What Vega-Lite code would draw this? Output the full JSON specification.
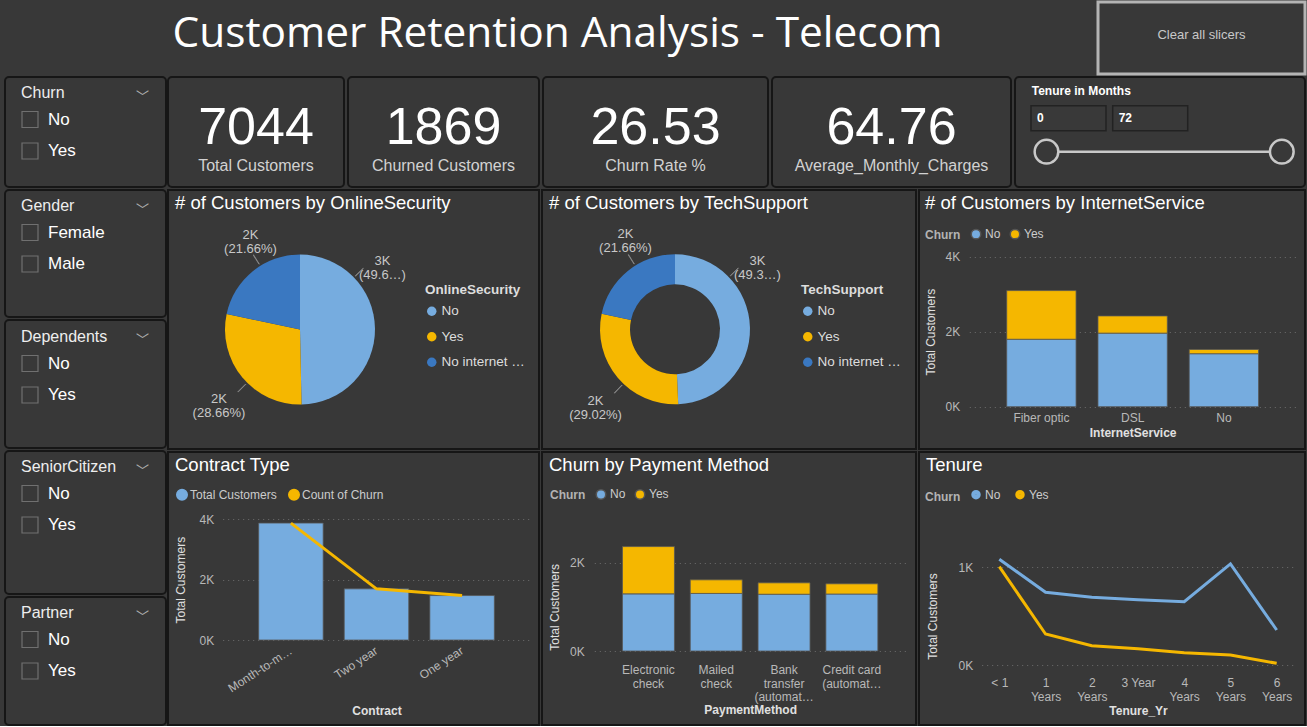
{
  "$schema": "https://vega.github.io/schema/vega-lite/v6.json",
  "background": "#383838",
  "padding": {"left": 4, "top": 0, "right": 0, "bottom": 0},
  "spacing": 0,
  "resolve": {"scale": {"color": "independent", "stroke": "independent", "theta": "independent", "x": "independent", "y": "independent"}, "legend": {"color": "independent", "stroke": "independent"}},
  "config": {
    "font": "Liberation Sans",
    "view": {"fill": "#383838", "stroke": "#161616", "strokeWidth": 2},
    "axis": {"labelColor": "#b8b8b8", "labelFontSize": 12, "titleColor": "#e0e0e0", "titleFontSize": 12, "titleFontWeight": "normal", "ticks": false, "domain": false, "gridColor": "#6e6e6e", "gridDash": [1, 4], "gridWidth": 1, "labelPadding": 3},
    "legend": {"labelColor": "#cccccc", "titleColor": "#b3b3b3", "padding": 0, "labelFontSize": 12, "titleFontSize": 12},
    "title": {"anchor": "start", "frame": "group", "baseline": "top", "offset": -22, "dx": 7, "fontSize": 18.5, "fontWeight": "normal", "color": "#ffffff"}
  },
  "vconcat": [
    {
      "hconcat": [
        {
          "width": 1090, "height": 74, "view": {"stroke": null, "fill": null},
          "data": {"values": [{"title": "Customer Retention Analysis - Telecom"}]},
          "mark": {"type": "text", "font": "Open Sans", "fontSize": 42.4, "color": "#ffffff", "baseline": "alphabetic", "dy": 8, "dx": 7.5},
          "encoding": {"text": {"field": "title", "type": "nominal"}}
        },
        {
          "width": 207, "height": 72, "view": {"stroke": "#b4b4b4", "strokeWidth": 3, "fill": "#383838"},
          "data": {"values": [{"label": "Clear all slicers"}]},
          "mark": {"type": "text", "fontSize": 13, "color": "#c8c8c8", "baseline": "middle", "dy": -3},
          "encoding": {"text": {"field": "label", "type": "nominal"}}
        }
      ],
      "spacing": 3, "bounds": "flush",
      "resolve": {"scale": {"color": "independent", "stroke": "independent"}}
    },
    {
      "hconcat": [
        {
          "vconcat": [
            {
              "width": 161, "height": 110, "view": {"fill": "#383838", "stroke": "#161616", "strokeWidth": 2, "cornerRadius": 4},
              "title": {"text": "﹀", "anchor": "end", "dx": -17, "offset": -27, "font": "Noto Sans CJK JP", "fontSize": 13, "color": "#b0b0b0"},
              "data": {"values": [{"Churn": "No"}, {"Churn": "Yes"}]},
              "mark": {"type": "square", "opacity": 0, "filled": false},
              "encoding": {"stroke": {"field": "Churn", "type": "nominal", "scale": {"range": ["#707070", "#707070"]},
                "legend": {"title": "Churn", "orient": "none", "legendX": 16, "legendY": 8, "symbolType": "square", "symbolSize": 256, "symbolStrokeWidth": 1.2, "symbolFillColor": "transparent", "symbolOpacity": 1, "labelFontSize": 17, "labelColor": "#ffffff", "labelOffset": 9, "rowPadding": 9.5, "titleFontSize": 16, "titleColor": "#eeeeee", "titleFontWeight": "normal", "titlePadding": 9.5}}}
            },
            {
              "width": 161, "height": 127, "view": {"fill": "#383838", "stroke": "#161616", "strokeWidth": 2, "cornerRadius": 4},
              "title": {"text": "﹀", "anchor": "end", "dx": -17, "offset": -27, "font": "Noto Sans CJK JP", "fontSize": 13, "color": "#b0b0b0"},
              "data": {"values": [{"Gender": "Female"}, {"Gender": "Male"}]},
              "mark": {"type": "square", "opacity": 0, "filled": false},
              "encoding": {"stroke": {"field": "Gender", "type": "nominal", "scale": {"range": ["#707070", "#707070"]},
                "legend": {"title": "Gender", "orient": "none", "legendX": 16, "legendY": 8, "symbolType": "square", "symbolSize": 256, "symbolStrokeWidth": 1.2, "symbolFillColor": "transparent", "symbolOpacity": 1, "labelFontSize": 17, "labelColor": "#ffffff", "labelOffset": 9, "rowPadding": 9.5, "titleFontSize": 16, "titleColor": "#eeeeee", "titleFontWeight": "normal", "titlePadding": 9.5}}}
            },
            {
              "width": 161, "height": 128, "view": {"fill": "#383838", "stroke": "#161616", "strokeWidth": 2, "cornerRadius": 4},
              "title": {"text": "﹀", "anchor": "end", "dx": -17, "offset": -27, "font": "Noto Sans CJK JP", "fontSize": 13, "color": "#b0b0b0"},
              "data": {"values": [{"Dependents": "No"}, {"Dependents": "Yes"}]},
              "mark": {"type": "square", "opacity": 0, "filled": false},
              "encoding": {"stroke": {"field": "Dependents", "type": "nominal", "scale": {"range": ["#707070", "#707070"]},
                "legend": {"title": "Dependents", "orient": "none", "legendX": 16, "legendY": 9, "symbolType": "square", "symbolSize": 256, "symbolStrokeWidth": 1.2, "symbolFillColor": "transparent", "symbolOpacity": 1, "labelFontSize": 17, "labelColor": "#ffffff", "labelOffset": 9, "rowPadding": 9.5, "titleFontSize": 16, "titleColor": "#eeeeee", "titleFontWeight": "normal", "titlePadding": 9.5}}}
            },
            {
              "width": 161, "height": 143, "view": {"fill": "#383838", "stroke": "#161616", "strokeWidth": 2, "cornerRadius": 4},
              "title": {"text": "﹀", "anchor": "end", "dx": -17, "offset": -27, "font": "Noto Sans CJK JP", "fontSize": 13, "color": "#b0b0b0"},
              "data": {"values": [{"SeniorCitizen": "No"}, {"SeniorCitizen": "Yes"}]},
              "mark": {"type": "square", "opacity": 0, "filled": false},
              "encoding": {"stroke": {"field": "SeniorCitizen", "type": "nominal", "scale": {"range": ["#707070", "#707070"]},
                "legend": {"title": "SeniorCitizen", "orient": "none", "legendX": 16, "legendY": 8, "symbolType": "square", "symbolSize": 256, "symbolStrokeWidth": 1.2, "symbolFillColor": "transparent", "symbolOpacity": 1, "labelFontSize": 17, "labelColor": "#ffffff", "labelOffset": 9, "rowPadding": 9.5, "titleFontSize": 16, "titleColor": "#eeeeee", "titleFontWeight": "normal", "titlePadding": 9.5}}}
            },
            {
              "width": 161, "height": 128, "view": {"fill": "#383838", "stroke": "#161616", "strokeWidth": 2, "cornerRadius": 4},
              "title": {"text": "﹀", "anchor": "end", "dx": -17, "offset": -27, "font": "Noto Sans CJK JP", "fontSize": 13, "color": "#b0b0b0"},
              "data": {"values": [{"Partner": "No"}, {"Partner": "Yes"}]},
              "mark": {"type": "square", "opacity": 0, "filled": false},
              "encoding": {"stroke": {"field": "Partner", "type": "nominal", "scale": {"range": ["#707070", "#707070"]},
                "legend": {"title": "Partner", "orient": "none", "legendX": 16, "legendY": 8, "symbolType": "square", "symbolSize": 256, "symbolStrokeWidth": 1.2, "symbolFillColor": "transparent", "symbolOpacity": 1, "labelFontSize": 17, "labelColor": "#ffffff", "labelOffset": 9, "rowPadding": 9.5, "titleFontSize": 16, "titleColor": "#eeeeee", "titleFontWeight": "normal", "titlePadding": 9.5}}}
            }
          ],
          "spacing": 3, "bounds": "flush",
          "resolve": {"scale": {"color": "independent", "stroke": "independent"}, "legend": {"color": "independent", "stroke": "independent"}}
        },
        {
          "vconcat": [
            {
              "hconcat": [
                {
                  "width": 176, "height": 110, "view": {"fill": "#383838", "stroke": "#161616", "strokeWidth": 2, "cornerRadius": 4},
                  "data": {"values": [{"metric": "Total Customers", "value": 7044}]},
                  "layer": [
                    {"mark": {"type": "text", "fontSize": 52, "color": "#ffffff", "baseline": "alphabetic", "dy": 12}, "encoding": {"text": {"field": "value", "type": "quantitative", "format": "d"}}},
                    {"mark": {"type": "text", "fontSize": 16, "color": "#d2d2d2", "baseline": "alphabetic", "dy": 39}, "encoding": {"text": {"field": "metric", "type": "nominal"}}}
                  ]
                },
                {
                  "width": 191, "height": 110, "view": {"fill": "#383838", "stroke": "#161616", "strokeWidth": 2, "cornerRadius": 4},
                  "data": {"values": [{"metric": "Churned Customers", "value": 1869}]},
                  "layer": [
                    {"mark": {"type": "text", "fontSize": 52, "color": "#ffffff", "baseline": "alphabetic", "dy": 12}, "encoding": {"text": {"field": "value", "type": "quantitative", "format": "d"}}},
                    {"mark": {"type": "text", "fontSize": 16, "color": "#d2d2d2", "baseline": "alphabetic", "dy": 39}, "encoding": {"text": {"field": "metric", "type": "nominal"}}}
                  ]
                },
                {
                  "width": 225, "height": 110, "view": {"fill": "#383838", "stroke": "#161616", "strokeWidth": 2, "cornerRadius": 4},
                  "data": {"values": [{"metric": "Churn Rate %", "value": 26.53}]},
                  "layer": [
                    {"mark": {"type": "text", "fontSize": 52, "color": "#ffffff", "baseline": "alphabetic", "dy": 12}, "encoding": {"text": {"field": "value", "type": "quantitative", "format": ".2f"}}},
                    {"mark": {"type": "text", "fontSize": 16, "color": "#d2d2d2", "baseline": "alphabetic", "dy": 39}, "encoding": {"text": {"field": "metric", "type": "nominal"}}}
                  ]
                },
                {
                  "width": 239, "height": 110, "view": {"fill": "#383838", "stroke": "#161616", "strokeWidth": 2, "cornerRadius": 4},
                  "data": {"values": [{"metric": "Average_Monthly_Charges", "value": 64.76}]},
                  "layer": [
                    {"mark": {"type": "text", "fontSize": 52, "color": "#ffffff", "baseline": "alphabetic", "dy": 12}, "encoding": {"text": {"field": "value", "type": "quantitative", "format": ".2f"}}},
                    {"mark": {"type": "text", "fontSize": 16, "color": "#d2d2d2", "baseline": "alphabetic", "dy": 39}, "encoding": {"text": {"field": "metric", "type": "nominal"}}}
                  ]
                },
                {
                  "width": 290, "height": 110, "view": {"fill": "#383838", "stroke": "#161616", "strokeWidth": 2, "cornerRadius": 4},
                  "title": {"text": "Tenure in Months", "fontSize": 12, "fontWeight": "bold", "dx": 16.7, "offset": -21, "color": "#ffffff"},
                  "data": {"values": [{"bound": "min", "months": 0}, {"bound": "max", "months": 72}]},
                  "resolve": {"scale": {"x": "independent"}},
                  "layer": [
                    {
                      "mark": {"type": "point", "shape": "M-1,-0.333L1,-0.333L1,0.333L-1,0.333Z", "size": 5625, "filled": true, "fill": "#393939", "stroke": "#222222", "strokeWidth": 1.5, "opacity": 1},
                      "encoding": {
                        "x": {"field": "bound", "type": "nominal", "scale": {"type": "point", "domain": ["min", "max"], "range": [53.5, 135.2], "padding": 0}, "axis": null},
                        "y": {"datum": "boxes", "type": "nominal", "scale": {"type": "point", "domain": ["boxes", "slider"], "range": [41.2, 74.7], "padding": 0}, "axis": null}
                      }
                    },
                    {
                      "mark": {"type": "text", "align": "left", "baseline": "middle", "dx": -31.5, "fontSize": 12, "fontWeight": "bold", "color": "#ffffff"},
                      "encoding": {
                        "x": {"field": "bound", "type": "nominal", "scale": {"type": "point", "domain": ["min", "max"], "range": [53.5, 135.2], "padding": 0}, "axis": null},
                        "y": {"datum": "boxes", "type": "nominal"},
                        "text": {"field": "months", "type": "quantitative"}
                      }
                    },
                    {
                      "mark": {"type": "line", "color": "#c8c8c8", "strokeWidth": 2.5},
                      "encoding": {
                        "x": {"field": "months", "type": "quantitative", "scale": {"domain": [0, 72], "range": [31.5, 266.8], "nice": false, "zero": false}, "axis": null},
                        "y": {"datum": "slider", "type": "nominal"}
                      }
                    },
                    {
                      "mark": {"type": "point", "filled": true, "fill": "#383838", "stroke": "#c8c8c8", "strokeWidth": 2.5, "size": 560, "opacity": 1},
                      "encoding": {
                        "x": {"field": "months", "type": "quantitative", "scale": {"domain": [0, 72], "range": [31.5, 266.8], "nice": false, "zero": false}, "axis": null},
                        "y": {"datum": "slider", "type": "nominal"}
                      }
                    }
                  ]
                }
              ],
              "spacing": 4, "bounds": "flush",
              "resolve": {"scale": {"color": "independent", "stroke": "independent", "x": "independent", "y": "independent"}}
            },
            {
              "hconcat": [
                {
                  "width": 371, "height": 259, "view": {"fill": "#383838", "stroke": "#161616", "strokeWidth": 2, "cornerRadius": 0},
                  "title": {"text": "# of Customers by OnlineSecurity"},
                  "data": {"values": [
                    {"OnlineSecurity": "No", "count": 3499, "rank": 1, "label": "3K\n(49.6…)"},
                    {"OnlineSecurity": "Yes", "count": 2019, "rank": 2, "label": "2K\n(28.66%)"},
                    {"OnlineSecurity": "No internet service", "count": 1526, "rank": 3, "label": "2K\n(21.66%)"}
                  ]},
                  "layer": [
                    {
                      "mark": {"type": "arc", "outerRadius": 75, "x": 132, "y": 139.5},
                      "encoding": {
                        "theta": {"field": "count", "type": "quantitative", "stack": true},
                        "order": {"field": "rank", "type": "ordinal"},
                        "color": {"field": "OnlineSecurity", "type": "nominal", "scale": {"domain": ["No", "Yes", "No internet service"], "range": ["#76ACDF", "#F5B700", "#3A78C1"]},
                          "legend": {"title": "OnlineSecurity", "orient": "none", "legendX": 257, "legendY": 93, "titleFontWeight": "bold", "titleFontSize": 13.5, "titleColor": "#dddddd", "titlePadding": 8, "labelFontSize": 13.5, "labelColor": "#dddddd", "symbolType": "circle", "symbolSize": 90, "labelOffset": 3, "rowPadding": 10.5, "labelLimit": 86}}
                      }
                    },
                    {
                      "transform": [{"stack": "count", "groupby": [], "sort": [{"field": "rank"}], "as": ["s0", "s1"]}],
                      "mark": {"type": "arc", "radius": 88, "radius2": 77, "thetaOffset": 0.8, "theta2Offset": 0.805, "x": 132, "y": 139.5, "color": "#8c8c8c", "stroke": "#8c8c8c", "strokeWidth": 0.7},
                      "encoding": {
                        "theta": {"field": "s0", "type": "quantitative"},
                        "theta2": {"field": "s0"}
                      }
                    },
                    {
                      "transform": [{"stack": "count", "groupby": [], "sort": [{"field": "rank"}], "as": ["s0", "s1"]}],
                      "mark": {"type": "text", "radius": 107, "thetaOffset": 0.88, "x": 132, "y": 139.5, "lineBreak": "\n", "fontSize": 13, "color": "#c8c8c8", "align": "center", "baseline": "middle", "lineHeight": 14},
                      "encoding": {
                        "theta": {"field": "s0", "type": "quantitative"},
                        "text": {"field": "label", "type": "nominal"}
                      }
                    }
                  ]
                },
                {
                  "width": 374, "height": 259, "view": {"fill": "#383838", "stroke": "#161616", "strokeWidth": 2, "cornerRadius": 0},
                  "title": {"text": "# of Customers by TechSupport"},
                  "data": {"values": [
                    {"TechSupport": "No", "count": 3474, "rank": 1, "label": "3K\n(49.3…)"},
                    {"TechSupport": "Yes", "count": 2044, "rank": 2, "label": "2K\n(29.02%)"},
                    {"TechSupport": "No internet service", "count": 1526, "rank": 3, "label": "2K\n(21.66%)"}
                  ]},
                  "layer": [
                    {
                      "mark": {"type": "arc", "outerRadius": 75, "innerRadius": 45, "x": 133, "y": 139.3},
                      "encoding": {
                        "theta": {"field": "count", "type": "quantitative", "stack": true},
                        "order": {"field": "rank", "type": "ordinal"},
                        "color": {"field": "TechSupport", "type": "nominal", "scale": {"domain": ["No", "Yes", "No internet service"], "range": ["#76ACDF", "#F5B700", "#3A78C1"]},
                          "legend": {"title": "TechSupport", "orient": "none", "legendX": 259, "legendY": 93, "titleFontWeight": "bold", "titleFontSize": 13.5, "titleColor": "#dddddd", "titlePadding": 8, "labelFontSize": 13.5, "labelColor": "#dddddd", "symbolType": "circle", "symbolSize": 90, "labelOffset": 3, "rowPadding": 10.5, "labelLimit": 86}}
                      }
                    },
                    {
                      "transform": [{"stack": "count", "groupby": [], "sort": [{"field": "rank"}], "as": ["s0", "s1"]}],
                      "mark": {"type": "arc", "radius": 88, "radius2": 77, "thetaOffset": 0.8, "theta2Offset": 0.805, "x": 133, "y": 139.3, "color": "#8c8c8c", "stroke": "#8c8c8c", "strokeWidth": 0.7},
                      "encoding": {
                        "theta": {"field": "s0", "type": "quantitative"},
                        "theta2": {"field": "s0"}
                      }
                    },
                    {
                      "transform": [{"stack": "count", "groupby": [], "sort": [{"field": "rank"}], "as": ["s0", "s1"]}],
                      "mark": {"type": "text", "radius": 107, "thetaOffset": 0.88, "x": 133, "y": 139.3, "lineBreak": "\n", "fontSize": 13, "color": "#c8c8c8", "align": "center", "baseline": "middle", "lineHeight": 14},
                      "encoding": {
                        "theta": {"field": "s0", "type": "quantitative"},
                        "text": {"field": "label", "type": "nominal"}
                      }
                    }
                  ]
                },
                {
                  "width": 386, "height": 259, "view": {"fill": "#383838", "stroke": "#161616", "strokeWidth": 2, "cornerRadius": 0},
                  "title": {"text": "# of Customers by InternetService", "dx": 6},
                  "data": {"values": [
                    {"InternetService": "Fiber optic", "Churn": "No", "count": 1799},
                    {"InternetService": "Fiber optic", "Churn": "Yes", "count": 1297},
                    {"InternetService": "DSL", "Churn": "No", "count": 1962},
                    {"InternetService": "DSL", "Churn": "Yes", "count": 459},
                    {"InternetService": "No", "Churn": "No", "count": 1413},
                    {"InternetService": "No", "Churn": "Yes", "count": 113}
                  ]},
                  "mark": {"type": "bar", "stroke": "#555555", "strokeWidth": 0.8},
                  "encoding": {
                    "x": {"field": "InternetService", "type": "nominal", "sort": ["Fiber optic", "DSL", "No"], "scale": {"range": [50.3, 377], "paddingInner": 0.24, "paddingOuter": 0.41},
                      "axis": {"offset": -42.3, "labelAngle": 0, "labelPadding": 5.4, "title": "InternetService", "titleFontWeight": "bold", "titlePadding": 4}},
                    "y": {"field": "count", "type": "quantitative", "stack": "zero", "title": "Total Customers", "scale": {"domain": [0, 4000], "range": [216.7, 66.7], "nice": false, "zero": false},
                      "axis": {"values": [0, 2000, 4000], "labelExpr": "(datum.value/1000) + 'K'", "offset": -43.7, "grid": true, "titlePadding": 8}},
                    "order": {"field": "Churn", "type": "nominal", "sort": "ascending"},
                    "color": {"field": "Churn", "type": "nominal", "scale": {"domain": ["No", "Yes"], "range": ["#76ACDF", "#F5B700"]},
                      "legend": {"title": "Churn", "orient": "none", "legendX": 6, "legendY": 38, "direction": "horizontal", "titleOrient": "left", "titleFontWeight": "bold", "titlePadding": 9, "symbolType": "circle", "symbolSize": 90, "labelOffset": 3, "columnPadding": 6}}
                  }
                }
              ],
              "spacing": 3, "bounds": "flush",
              "resolve": {"scale": {"color": "independent", "theta": "independent", "x": "independent", "y": "independent"}, "legend": {"color": "independent"}}
            },
            {
              "hconcat": [
                {
                  "width": 371, "height": 273, "view": {"fill": "#383838", "stroke": "#161616", "strokeWidth": 2, "cornerRadius": 0},
                  "title": {"text": "Contract Type"},
                  "data": {"values": [
                    {"Contract": "Month-to-month", "total": 3875, "churn": 3875},
                    {"Contract": "Two year", "total": 1695, "churn": 1695},
                    {"Contract": "One year", "total": 1473, "churn": 1473}
                  ]},
                  "layer": [
                    {
                      "mark": {"type": "bar", "stroke": "#555555", "strokeWidth": 0.8},
                      "encoding": {
                        "x": {"field": "Contract", "type": "nominal", "sort": ["Month-to-month", "Two year", "One year"], "scale": {"range": [54.7, 362.3], "paddingInner": 0.246, "paddingOuter": 0.42},
                          "axis": {"offset": -85, "labelAngle": -33, "labelAlign": "right", "labelBaseline": "middle", "labelLimit": 75, "labelPadding": 9, "title": "Contract", "titleFontWeight": "bold", "titlePadding": 12}},
                        "y": {"field": "total", "type": "quantitative", "title": "Total Customers", "scale": {"domain": [0, 4000], "range": [188, 67.3], "nice": false, "zero": false},
                          "axis": {"values": [0, 2000, 4000], "labelExpr": "(datum.value/1000) + 'K'", "offset": -48.7, "grid": true, "titlePadding": 12}},
                        "color": {"datum": "Total Customers", "type": "nominal", "scale": {"domain": ["Total Customers", "Count of Churn"], "range": ["#76ACDF", "#F5B700"]},
                          "legend": {"title": null, "orient": "none", "legendX": 8, "legendY": 36.3, "direction": "horizontal", "symbolType": "circle", "symbolSize": 110, "labelOffset": 2, "columnPadding": 8}}
                      }
                    },
                    {
                      "mark": {"type": "line", "strokeWidth": 3},
                      "encoding": {
                        "x": {"field": "Contract", "type": "nominal", "sort": ["Month-to-month", "Two year", "One year"]},
                        "y": {"field": "churn", "type": "quantitative", "title": "Total Customers"},
                        "color": {"datum": "Count of Churn", "type": "nominal"}
                      }
                    }
                  ]
                },
                {
                  "width": 374, "height": 273, "view": {"fill": "#383838", "stroke": "#161616", "strokeWidth": 2, "cornerRadius": 0},
                  "title": {"text": "Churn by Payment Method"},
                  "data": {"values": [
                    {"PaymentMethod": "Electronic check", "Churn": "No", "count": 1294},
                    {"PaymentMethod": "Electronic check", "Churn": "Yes", "count": 1071},
                    {"PaymentMethod": "Mailed check", "Churn": "No", "count": 1304},
                    {"PaymentMethod": "Mailed check", "Churn": "Yes", "count": 308},
                    {"PaymentMethod": "Bank transfer (automatic)", "Churn": "No", "count": 1286},
                    {"PaymentMethod": "Bank transfer (automatic)", "Churn": "Yes", "count": 258},
                    {"PaymentMethod": "Credit card (automatic)", "Churn": "No", "count": 1290},
                    {"PaymentMethod": "Credit card (automatic)", "Churn": "Yes", "count": 232}
                  ]},
                  "mark": {"type": "bar", "stroke": "#555555", "strokeWidth": 0.8},
                  "encoding": {
                    "x": {"field": "PaymentMethod", "type": "nominal", "sort": ["Electronic check", "Mailed check", "Bank transfer (automatic)", "Credit card (automatic)"], "scale": {"range": [52.3, 364], "paddingInner": 0.233, "paddingOuter": 0.415},
                      "axis": {"offset": -74, "labelAngle": 0, "labelPadding": 13.8, "labelLineHeight": 13.3, "title": "PaymentMethod", "titleFontWeight": "bold", "titlePadding": 2,
                        "labelExpr": "datum.label == 'Electronic check' ? ['Electronic', 'check'] : datum.label == 'Mailed check' ? ['Mailed', 'check'] : datum.label == 'Bank transfer (automatic)' ? ['Bank', 'transfer', '(automat…'] : ['Credit card', '(automat…']"}},
                    "y": {"field": "count", "type": "quantitative", "stack": "zero", "title": "Total Customers", "scale": {"domain": [0, 2000], "range": [199, 110.7], "nice": false, "zero": false},
                      "axis": {"values": [0, 2000], "labelExpr": "(datum.value/1000) + 'K'", "offset": -45.3, "grid": true, "titlePadding": 8}},
                    "order": {"field": "Churn", "type": "nominal", "sort": "ascending"},
                    "color": {"field": "Churn", "type": "nominal", "scale": {"domain": ["No", "Yes"], "range": ["#76ACDF", "#F5B700"]},
                      "legend": {"title": "Churn", "orient": "none", "legendX": 8, "legendY": 36.3, "direction": "horizontal", "titleOrient": "left", "titleFontWeight": "bold", "titlePadding": 9, "symbolType": "circle", "symbolSize": 90, "labelOffset": 3, "columnPadding": 6}}
                  }
                },
                {
                  "width": 386, "height": 273, "view": {"fill": "#383838", "stroke": "#161616", "strokeWidth": 2, "cornerRadius": 0},
                  "title": {"text": "Tenure"},
                  "data": {"values": [
                    {"Tenure_Yr": "< 1", "Churn": "No", "count": 1079},
                    {"Tenure_Yr": "1 Years", "Churn": "No", "count": 742},
                    {"Tenure_Yr": "2 Years", "Churn": "No", "count": 691},
                    {"Tenure_Yr": "3 Year", "Churn": "No", "count": 667},
                    {"Tenure_Yr": "4 Years", "Churn": "No", "count": 646},
                    {"Tenure_Yr": "5 Years", "Churn": "No", "count": 1031},
                    {"Tenure_Yr": "6 Years", "Churn": "No", "count": 357},
                    {"Tenure_Yr": "< 1", "Churn": "Yes", "count": 1003},
                    {"Tenure_Yr": "1 Years", "Churn": "Yes", "count": 316},
                    {"Tenure_Yr": "2 Years", "Churn": "Yes", "count": 197},
                    {"Tenure_Yr": "3 Year", "Churn": "Yes", "count": 166},
                    {"Tenure_Yr": "4 Years", "Churn": "Yes", "count": 126},
                    {"Tenure_Yr": "5 Years", "Churn": "Yes", "count": 102},
                    {"Tenure_Yr": "6 Years", "Churn": "Yes", "count": 17}
                  ]},
                  "mark": {"type": "line", "strokeWidth": 3},
                  "encoding": {
                    "x": {"field": "Tenure_Yr", "type": "nominal", "sort": ["< 1", "1 Years", "2 Years", "3 Year", "4 Years", "5 Years", "6 Years"], "scale": {"type": "point", "range": [62.7, 375.3], "padding": 0.381},
                      "axis": {"offset": -60, "labelAngle": 0, "labelPadding": 12, "labelLineHeight": 14.4, "title": "Tenure_Yr", "titleFontWeight": "bold", "titlePadding": 3,
                        "labelExpr": "datum.label == '< 1' || datum.label == '3 Year' ? datum.label : split(datum.label, ' ')"}},
                    "y": {"field": "count", "type": "quantitative", "title": "Total Customers", "scale": {"domain": [0, 1000], "range": [213, 115], "nice": false, "zero": false},
                      "axis": {"values": [0, 1000], "labelExpr": "(datum.value/1000) + 'K'", "offset": -56.7, "grid": true, "titlePadding": 19}},
                    "color": {"field": "Churn", "type": "nominal", "scale": {"domain": ["No", "Yes"], "range": ["#76ACDF", "#F5B700"]},
                      "legend": {"title": "Churn", "orient": "none", "legendX": 6, "legendY": 36.3, "direction": "horizontal", "titleOrient": "left", "titleFontWeight": "bold", "titlePadding": 9, "symbolType": "circle", "symbolSize": 20, "symbolStrokeWidth": 5, "labelOffset": 3, "columnPadding": 6}}
                  }
                }
              ],
              "spacing": 3, "bounds": "flush",
              "resolve": {"scale": {"color": "independent", "x": "independent", "y": "independent"}, "legend": {"color": "independent"}}
            }
          ],
          "spacing": 1,
          "resolve": {"scale": {"color": "independent", "stroke": "independent", "theta": "independent", "x": "independent", "y": "independent"}, "legend": {"color": "independent", "stroke": "independent"}}
        }
      ],
      "spacing": 0,
      "resolve": {"scale": {"color": "independent", "stroke": "independent", "theta": "independent", "x": "independent", "y": "independent"}, "legend": {"color": "independent", "stroke": "independent"}}
    }
  ]
}
